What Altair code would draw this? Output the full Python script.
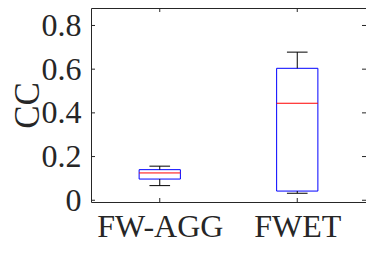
import altair as alt
import pandas as pd

groups = ["FW-AGG", "FWET"]
positions = [1, 2]
whisker_low = [0.067, 0.032]
q1 = [0.097, 0.042]
median = [0.125, 0.444]
q3 = [0.140, 0.604]
whisker_high = [0.156, 0.678]
y_ticks = [0, 0.2, 0.4, 0.6, 0.8]

FONT = "'Liberation Serif', 'Times New Roman', 'DejaVu Serif', 'Noto Serif', FreeSerif, serif"
AX = "#262626"
W, H = 275, 194

df = pd.DataFrame({"group": groups, "pos": positions, "wlo": whisker_low,
                   "q1": q1, "med": median, "q3": q3, "whi": whisker_high})
tdf = pd.DataFrame({"v": y_ticks})
xdf = pd.DataFrame({"pos": positions})

X = alt.Scale(domain=[0.5, 2.5], nice=False, zero=False)
Y = alt.Scale(domain=[-0.008, 0.88], nice=False, zero=False)

label_expr = " : ".join(
    [f"datum.value == {p} ? '{g}'" for p, g in zip(positions[:-1], groups[:-1])]
    + [f"'{groups[-1]}'"])

x_axis = alt.Axis(values=positions, labelExpr=label_expr, title=None, grid=False,
                  domain=False, ticks=False, tickSize=0, labelFont=FONT,
                  labelFontSize=32, labelColor=AX, labelPadding=34,
                  labelBaseline="alphabetic", labelAngle=0)
y_axis = alt.Axis(values=y_ticks, title="CC", grid=False, domain=False, ticks=False,
                  tickSize=0, labelFont=FONT, labelFontSize=32, labelColor=AX,
                  labelPadding=10, labelBaseline="middle", labelAlign="right",
                  format="~g", titleFont=FONT, titleFontSize=35,
                  titleFontWeight="normal", titleColor=AX, titleAngle=-90,
                  titleX=-64, titleY=H / 2, titleBaseline="middle",
                  titleAlign="center")


def xe(field):
    return alt.X(field, scale=X, axis=x_axis)


def ye(field):
    return alt.Y(field, scale=Y, axis=y_axis)


base = alt.Chart(df).transform_calculate(
    left="datum.pos - 0.15", right="datum.pos + 0.15",
    cl="datum.pos - 0.075", cr="datum.pos + 0.075")

boxes = base.mark_rect(fill="white", stroke="#0000FF", strokeWidth=1).encode(
    x=xe("left:Q"), x2="right:Q", y=ye("q1:Q"), y2="q3:Q")
meds = base.mark_rule(color="#FF0000", strokeWidth=1).encode(
    x=xe("left:Q"), x2="right:Q", y=ye("med:Q"))
w_up = base.mark_rule(color="black", strokeWidth=1).encode(
    x=xe("pos:Q"), y=ye("q3:Q"), y2="whi:Q")
w_dn = base.mark_rule(color="black", strokeWidth=1).encode(
    x=xe("pos:Q"), y=ye("wlo:Q"), y2="q1:Q")
cap_up = base.mark_rule(color="black", strokeWidth=1).encode(
    x=xe("cl:Q"), x2="cr:Q", y=ye("whi:Q"))
cap_dn = base.mark_rule(color="black", strokeWidth=1).encode(
    x=xe("cl:Q"), x2="cr:Q", y=ye("wlo:Q"))

tl = alt.Chart(tdf).mark_rule(color=AX).encode(
    x=alt.value(0), x2=alt.value(4), y=ye("v:Q"))
tr = alt.Chart(tdf).mark_rule(color=AX).encode(
    x=alt.value(W), x2=alt.value(W - 4), y=ye("v:Q"))
tb = alt.Chart(xdf).mark_rule(color=AX).encode(
    y=alt.value(H), y2=alt.value(H - 4), x=xe("pos:Q"))
tt = alt.Chart(xdf).mark_rule(color=AX).encode(
    y=alt.value(0), y2=alt.value(4), x=xe("pos:Q"))

chart = alt.layer(boxes, meds, w_up, w_dn, cap_up, cap_dn, tl, tr, tb, tt).properties(
    width=W, height=H, autosize=alt.AutoSizeParams(type="none"),
    padding={"left": 83, "top": 0, "right": 0, "bottom": 40},
    background="white"
).configure(font=FONT).configure_view(stroke=AX, strokeWidth=1)

chart.save("out.html", embed_options={"renderer": "svg", "actions": False})
